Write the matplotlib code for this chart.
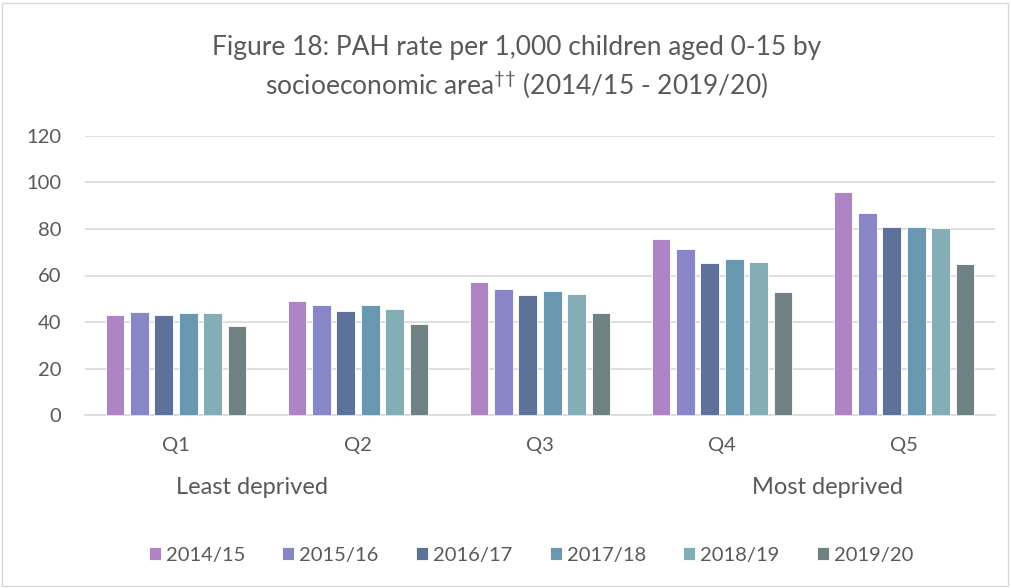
import matplotlib
matplotlib.use("Agg")
import matplotlib.pyplot as plt
import numpy as np
from matplotlib.patches import Rectangle

categories = ["Q1", "Q2", "Q3", "Q4", "Q5"]
series_names = ["2014/15", "2015/16", "2016/17", "2017/18", "2018/19", "2019/20"]
v2014 = [42.8, 48.9, 57.0, 75.6, 96.0]
v2015 = [44.1, 47.3, 54.0, 71.2, 86.8]
v2016 = [43.0, 44.7, 51.4, 65.3, 80.9]
v2017 = [44.0, 47.1, 53.2, 67.3, 80.7]
v2018 = [43.7, 45.4, 51.9, 66.0, 80.4]
v2019 = [38.3, 39.1, 43.7, 52.7, 64.8]
values = [v2014, v2015, v2016, v2017, v2018, v2019]
colors = ["#AE84C5", "#8886C6", "#5E7299", "#6A98B1", "#85ADB6", "#6F8182"]

plt.rcParams['font.family'] = ['Lato', 'DejaVu Sans']
txt = "#595959"

fig = plt.figure(figsize=(10.11, 5.88), dpi=100)
ax = fig.add_axes([85/1011, 1 - 415/588, 910/1011, (415 - 136)/588])

x = np.arange(len(categories))
pitch = 0.134
width = 0.104
for i, (name, vals, c) in enumerate(zip(series_names, values, colors)):
    ax.bar(x + (i - 2.5) * pitch, vals, width, color=c, label=name, zorder=3,
           edgecolor="white", linewidth=0.6)

ax.set_xlim(-0.5, 4.5)
ax.set_ylim(0, 120)
ax.set_yticks(range(0, 121, 20))
ax.yaxis.grid(True, color="#D9D9D9", linewidth=1.2, zorder=0)
ax.set_axisbelow(True)
for s in ["top", "right", "left"]:
    ax.spines[s].set_visible(False)
ax.spines["bottom"].set_color("#D9D9D9")
ax.spines["bottom"].set_linewidth(1.2)
ax.tick_params(axis="both", length=0, labelsize=14.5, colors=txt)
ax.tick_params(axis="x", pad=16)
ax.tick_params(axis="y", pad=17)
ax.set_xticks(x)
ax.set_xticklabels(categories)

fig.text(252/1011, 1 - 488/588, "Least deprived", ha="center", va="center",
         fontsize=17, color=txt)
fig.text(828/1011, 1 - 488/588, "Most deprived", ha="center", va="center",
         fontsize=17, color=txt)

fig.text(517/1011, 1 - 68/588,
         "Figure 18: PAH rate per 1,000 children aged 0-15 by\nsocioeconomic area$^{\\mathregular{††}}$ (2014/15 - 2019/20)",
         ha="center", va="center", fontsize=19, color=txt, linespacing=1.3)

leg = fig.legend(loc="center", bbox_to_anchor=(531/1011, 1 - 555/588), ncol=6,
                 frameon=False, fontsize=14.5, handlelength=0.6, handleheight=0.6,
                 handletextpad=0.25, columnspacing=1.85)
for t in leg.get_texts():
    t.set_color(txt)

fig.patches.append(Rectangle((2/1011, 2/588), 1006/1011, 583/588, transform=fig.transFigure,
                             fill=False, edgecolor="#D9D9D9", linewidth=1))

fig.savefig("out.png", dpi=100, facecolor="white")
